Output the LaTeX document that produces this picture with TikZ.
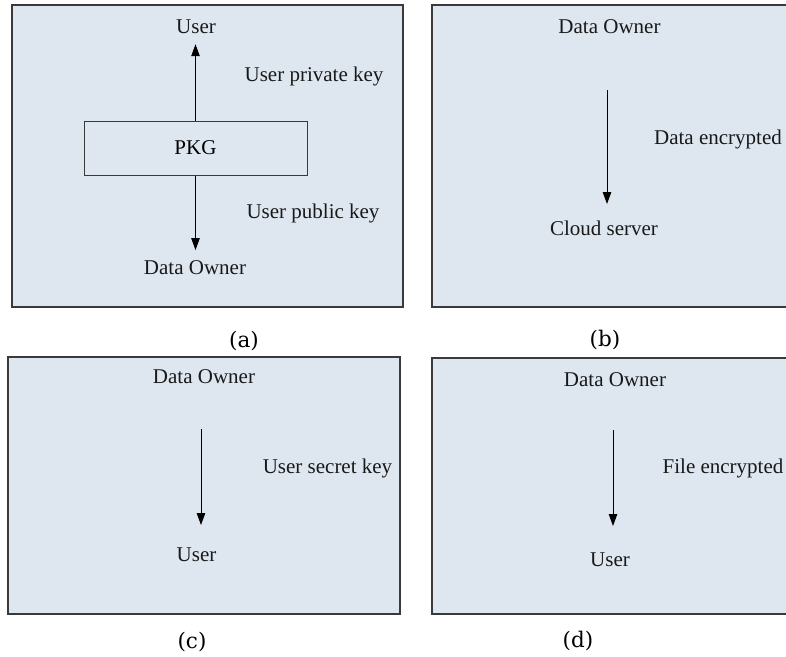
\documentclass[tikz,border=0pt]{standalone}
\usepackage{fontspec}
\setmainfont{Liberation Serif}
\newfontfamily\capfont{DejaVu Serif}
\usetikzlibrary{arrows.meta}
\definecolor{panel}{HTML}{DEE7F0}
\definecolor{edge}{HTML}{3A3A3A}
\begin{document}
\begin{tikzpicture}[x=1pt,y=-1pt,
    lbl/.style={anchor=base,font=\fontsize{21}{25}\selectfont,text=black!90},
    subcap/.style={anchor=base,font=\capfont\fontsize{21.5}{25}\selectfont},
    panelbox/.style={draw=edge,fill=panel,line width=1.3pt},
    pkgbox/.style={draw=edge,fill=panel,line width=1pt,minimum width=223pt,minimum height=54pt,font=\fontsize{21}{25}\selectfont},
    arr/.style={->,line width=1pt,>={Triangle[length=12pt,width=8.5pt]}}]
    \useasboundingbox (0,0) rectangle (786,656);
    \clip (0,0) rectangle (786,656);
    \draw[panelbox] (12,5) rectangle (403,307);
    \draw[panelbox] (432,5) rectangle (800,307);
    \draw[panelbox] (8,357) rectangle (400,614);
    \draw[panelbox] (432,358) rectangle (800,614);

    \node[lbl] (usera) at (196,33) {User};
    \node[lbl] (privkey) at (314,81) {User private key};
    \node[pkgbox] (pkg) at (195.5,148) {PKG};
    \node[lbl] (pubkey) at (313,218) {User public key};
    \node[lbl] (ownera) at (195,274) {Data Owner};
    \draw[arr,shorten >=7.5pt] (pkg.north) -- (pkg.north |- usera.south);
    \draw[arr,shorten >=6.5pt] (pkg.south) -- (pkg.south |- ownera.north);
    \node[subcap] (capa) at (244,347) {(a)};

    \node[lbl] (ownerb) at (609.5,33.5) {Data Owner};
    \node[lbl] (dataenc) at (718,144.5) {Data encrypted};
    \node[lbl] (cloud) at (604,235) {Cloud server};
    \coordinate (b1) at (607,90);
    \coordinate (b2) at (607,204);
    \draw[arr] (b1) -- (b2);
    \node[subcap] (capb) at (605,346) {(b)};

    \node[lbl] (ownerc) at (204,383) {Data Owner};
    \node[lbl] (seckey) at (327.5,473) {User secret key};
    \node[lbl] (userc) at (196.5,561) {User};
    \coordinate (c1) at (201,429);
    \coordinate (c2) at (201,525);
    \draw[arr] (c1) -- (c2);
    \node[subcap] (capc) at (192,648) {(c)};

    \node[lbl] (ownerd) at (615,386) {Data Owner};
    \node[lbl] (fileenc) at (723,473) {File encrypted};
    \node[lbl] (userd) at (610,566) {User};
    \coordinate (d1) at (613,430);
    \coordinate (d2) at (613,526);
    \draw[arr] (d1) -- (d2);
    \node[subcap] (capd) at (578,647) {(d)};
\end{tikzpicture}
\end{document}
